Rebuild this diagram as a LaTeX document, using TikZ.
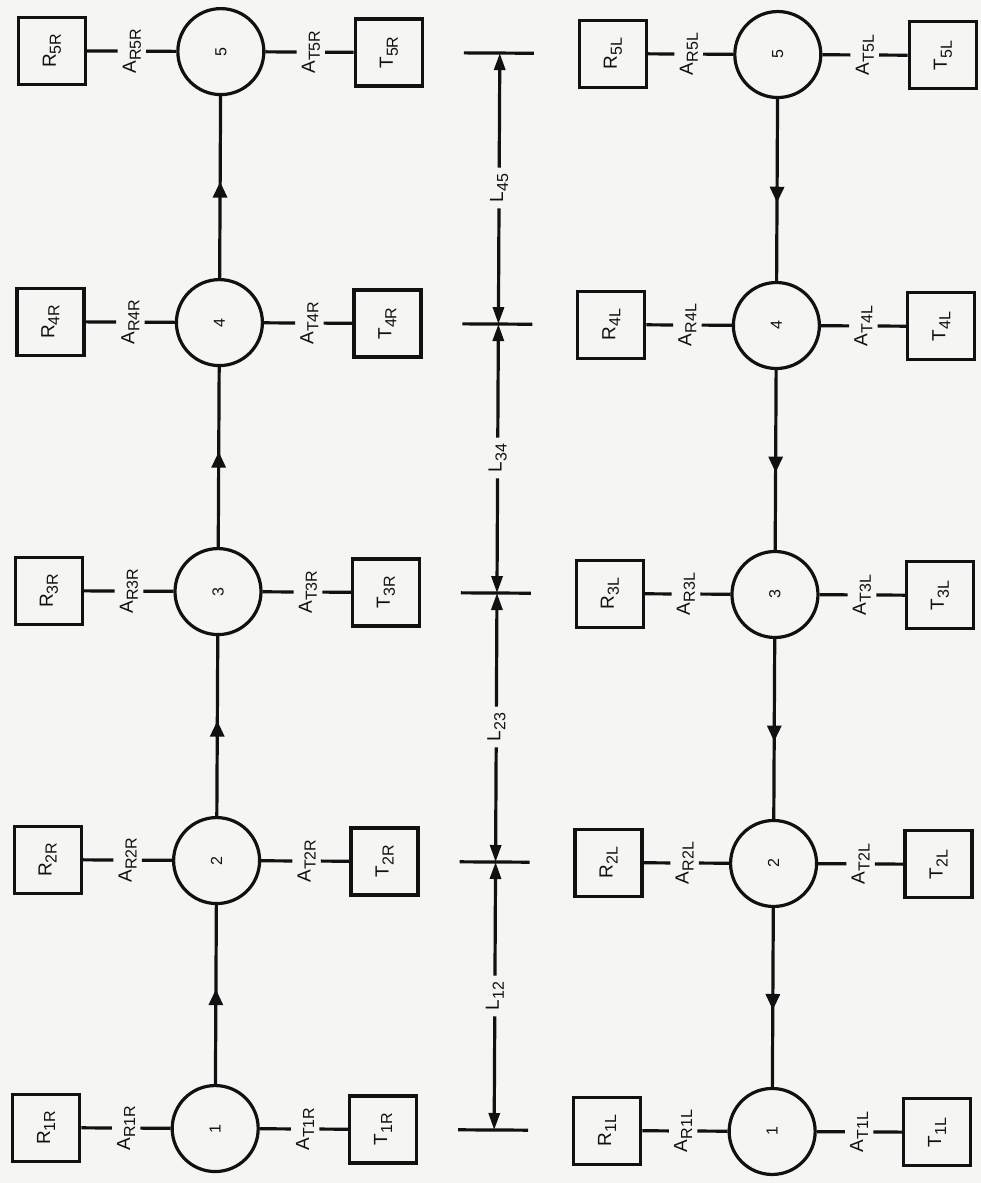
\documentclass[tikz,border=0pt]{standalone}
\usepackage{fontspec}
\setmainfont{Liberation Sans}
\usetikzlibrary{arrows.meta,decorations.markings}
\definecolor{paper}{HTML}{F5F5F3}
\definecolor{ink}{HTML}{111111}
\newcommand{\sublab}[2]{{\fontsize{19}{19}\selectfont #1\raisebox{-5pt}{\fontsize{16}{16}\selectfont #2}}}
\begin{document}
\begin{tikzpicture}[x=1pt,y=-1pt,
  ln/.style={line width=3.2pt, draw=ink},
  box/.style={draw=ink, line width=3.2pt, minimum width=67pt, minimum height=67pt, inner sep=0pt, rotate=90},
  stn/.style={draw=ink, circle, line width=3.2pt, minimum size=86pt, inner sep=0pt, rotate=90, font=\fontsize{16}{16}\selectfont},
  gain/.style={rotate=90, inner sep=5pt},
  dimlab/.style={rotate=90, inner sep=6pt},
  upflow/.style={ln, postaction={decorate}, decoration={markings, mark=at position 0.53 with {\arrow{Triangle[length=16pt,width=14pt]}}}},
  downflow/.style={ln, postaction={decorate}, decoration={markings, mark=at position 0.57 with {\arrow{Triangle[length=16pt,width=14pt]}}}},
  dim/.style={ln, -{Triangle[length=17pt,width=11pt]}}
]
\fill[paper] (0,0) rectangle (981,1183);
\useasboundingbox (0,0) rectangle (981,1183);
\begin{scope}[rotate around={-0.3:(490,591)}, text=ink]
\foreach \i/\y in {1/1130,2/862,3/593,4/324,5/53}{
  % R column (left)
  \node[box] (R\i R) at (49,\y) {\sublab{R}{\i R}};
  \node[gain] (AR\i R) at (129,\y) {\sublab{A}{R\i R}};
  \node[stn] (C\i R) at (218,\y) {\i};
  \node[gain] (AT\i R) at (308,\y) {\sublab{A}{T\i R}};
  \node[box] (T\i R) at (386,\y) {\sublab{T}{\i R}};
  \draw[ln] (R\i R) -- (AR\i R);
  \draw[ln] (AR\i R) -- (C\i R);
  \draw[ln] (C\i R) -- (AT\i R);
  \draw[ln] (AT\i R) -- (T\i R);
  % L column (right)
  \node[box] (R\i L) at (610,\y) {\sublab{R}{\i L}};
  \node[gain] (AR\i L) at (686,\y) {\sublab{A}{R\i L}};
  \node[stn] (C\i L) at (775,\y) {\i};
  \node[gain] (AT\i L) at (862,\y) {\sublab{A}{T\i L}};
  \node[box] (T\i L) at (940,\y) {\sublab{T}{\i L}};
  \draw[ln] (R\i L) -- (AR\i L);
  \draw[ln] (AR\i L) -- (C\i L);
  \draw[ln] (C\i L) -- (AT\i L);
  \draw[ln] (AT\i L) -- (T\i L);
  % dimension ticks
  \coordinate (t\i) at (497,\y);
  \draw[ln] ([xshift=-36pt]t\i) -- ([xshift=34pt]t\i);
}
\draw[upflow] (C1R) -- (C2R);
\draw[upflow] (C2R) -- (C3R);
\draw[upflow] (C3R) -- (C4R);
\draw[upflow] (C4R) -- (C5R);
\draw[downflow] (C5L) -- (C4L);
\draw[downflow] (C4L) -- (C3L);
\draw[downflow] (C3L) -- (C2L);
\draw[downflow] (C2L) -- (C1L);
\node[dimlab] (L12) at (497,996) {\sublab{L}{12}};
\node[dimlab] (L23) at (497,727) {\sublab{L}{23}};
\node[dimlab] (L34) at (497,458) {\sublab{L}{34}};
\node[dimlab] (L45) at (497,188) {\sublab{L}{45}};
\draw[dim] (L12) -- (t1);
\draw[dim] (L12) -- (t2);
\draw[dim] (L23) -- (t2);
\draw[dim] (L23) -- (t3);
\draw[dim] (L34) -- (t3);
\draw[dim] (L34) -- (t4);
\draw[dim] (L45) -- (t4);
\draw[dim] (L45) -- (t5);
\end{scope}
\end{tikzpicture}
\end{document}
